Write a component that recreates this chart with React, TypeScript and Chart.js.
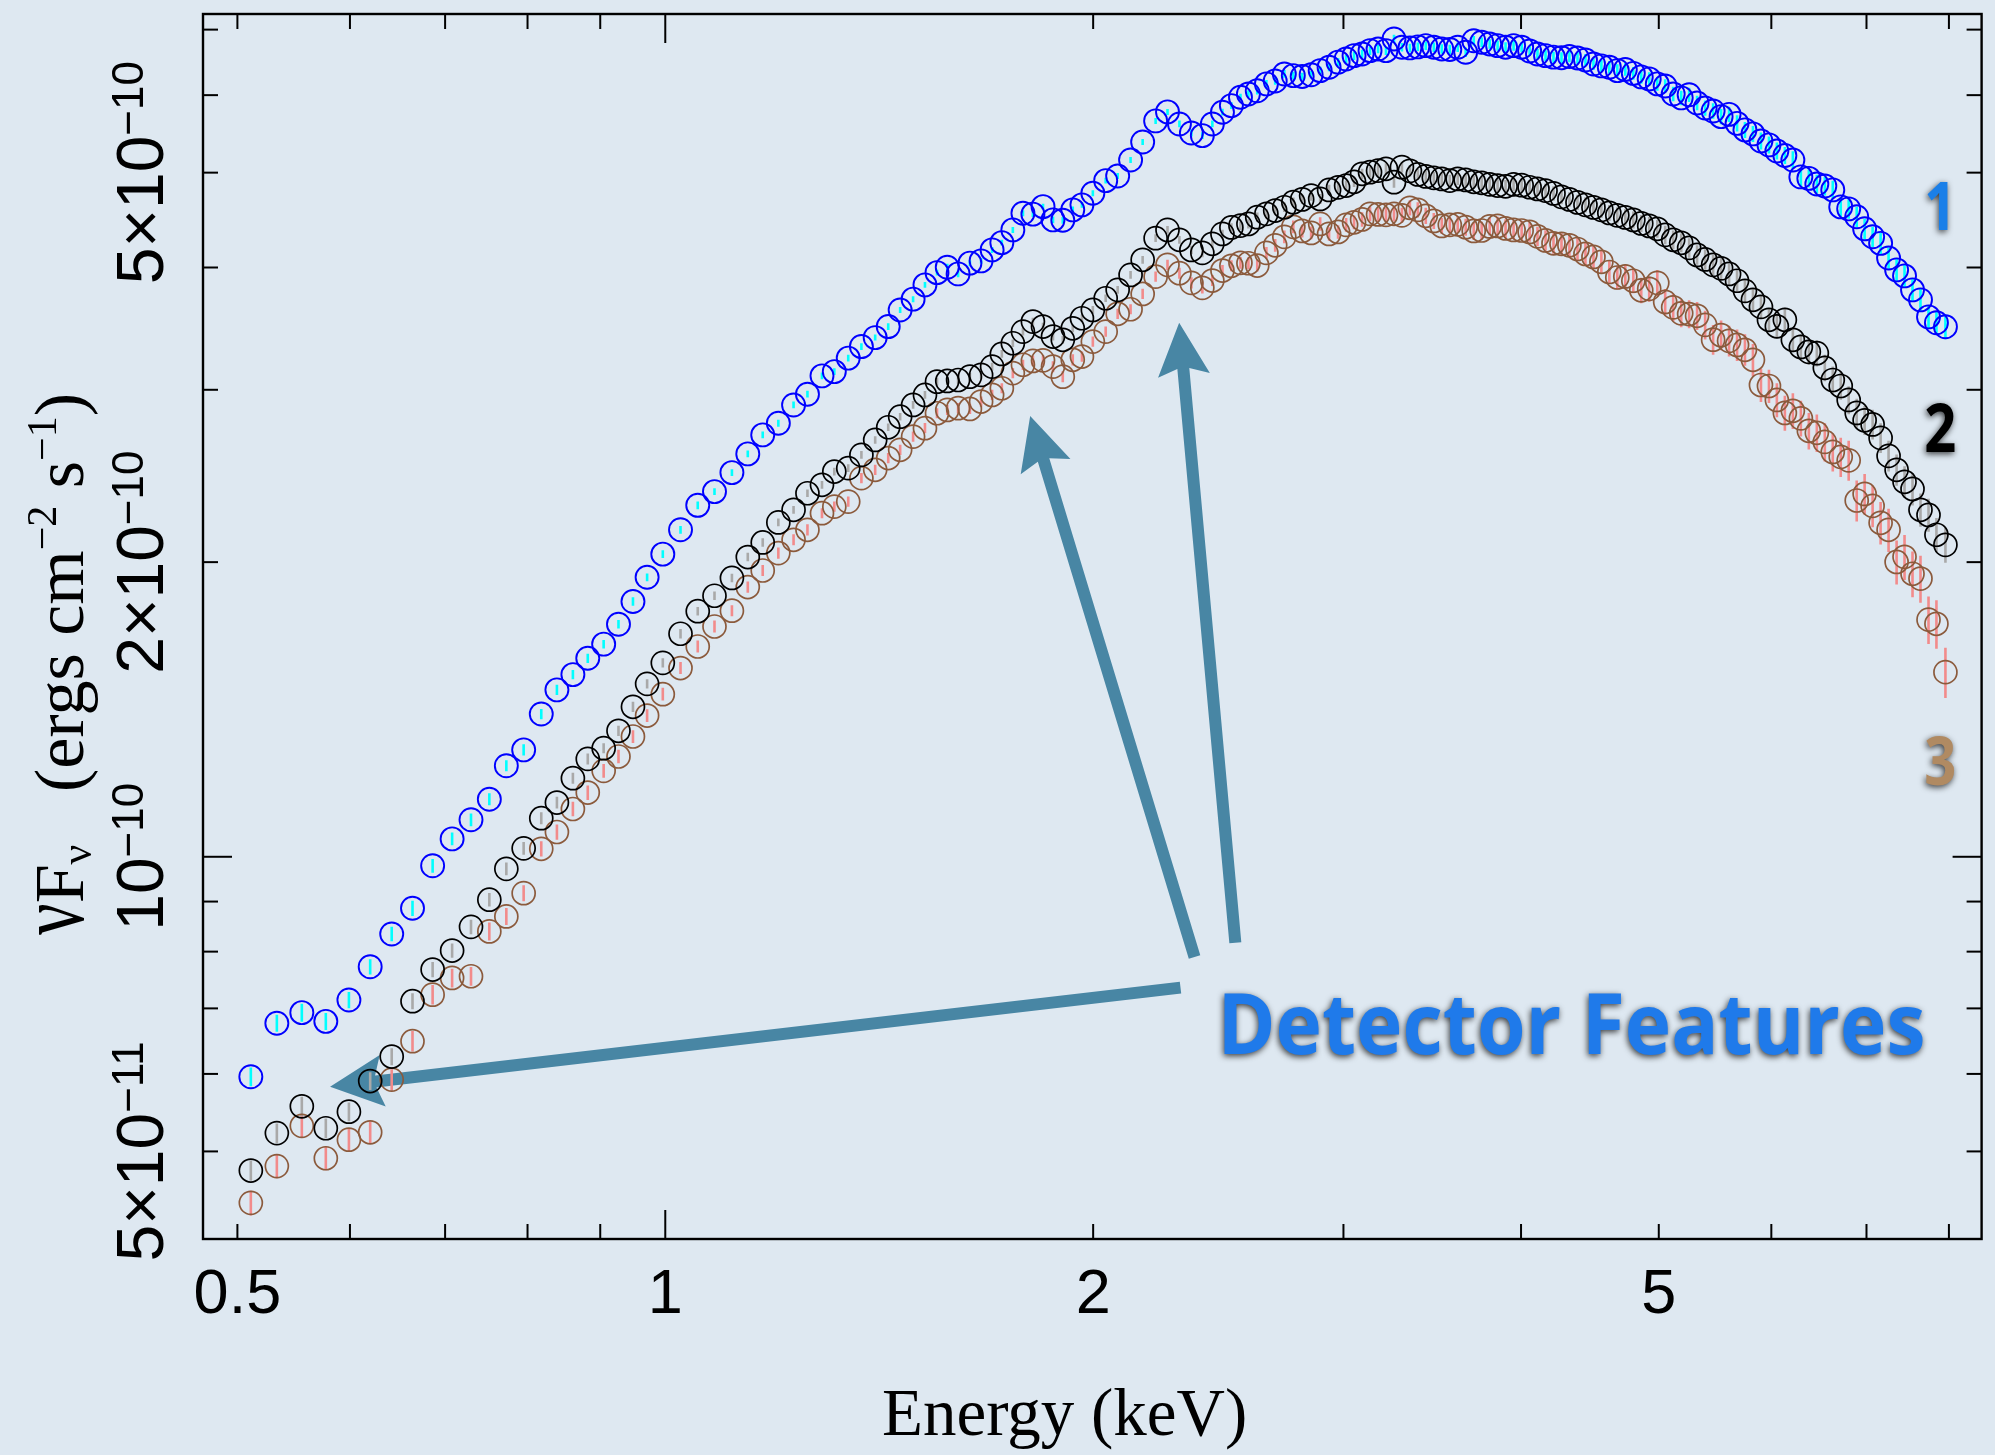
import React, { useEffect, useRef } from "react";
import { Chart, registerables } from "chart.js";

Chart.register(...registerables);

const W = 1995;
const H = 1455;
const PAGE_BG = "#dee8f1";

// Bin centre energies (keV), shared by the three spectra
const energyKeV = [
  0.511, 0.533, 0.555, 0.577, 0.599, 0.62, 0.642, 0.664, 0.686, 0.708,
  0.73, 0.752, 0.773, 0.795, 0.818, 0.839, 0.861, 0.882, 0.905, 0.927,
  0.949, 0.971, 0.996, 1.025, 1.054, 1.083, 1.114, 1.143, 1.171, 1.201,
  1.231, 1.259, 1.289, 1.315, 1.345, 1.374, 1.405, 1.435, 1.463, 1.494,
  1.523, 1.553, 1.579, 1.607, 1.638, 1.668, 1.698, 1.725, 1.756, 1.785,
  1.814, 1.844, 1.874, 1.904, 1.935, 1.964, 1.999, 2.041, 2.081, 2.125,
  2.167, 2.213, 2.256, 2.3, 2.345, 2.387, 2.426, 2.466, 2.502, 2.539,
  2.572, 2.609, 2.648, 2.686, 2.726, 2.766, 2.806, 2.847, 2.889, 2.931,
  2.974, 3.013, 3.052, 3.092, 3.132, 3.173, 3.214, 3.256, 3.298, 3.341,
  3.384, 3.428, 3.473, 3.518, 3.564, 3.61, 3.657, 3.705, 3.753, 3.802,
  3.851, 3.901, 3.952, 4.004, 4.056, 4.108, 4.162, 4.216, 4.271, 4.326,
  4.383, 4.44, 4.498, 4.556, 4.615, 4.675, 4.736, 4.798, 4.86, 4.923,
  4.988, 5.052, 5.118, 5.185, 5.252, 5.32, 5.39, 5.46, 5.531, 5.603,
  5.676, 5.749, 5.824, 5.9, 5.977, 6.054, 6.133, 6.213, 6.294, 6.376,
  6.459, 6.543, 6.628, 6.714, 6.801, 6.89, 6.979, 7.07, 7.162, 7.255,
  7.35, 7.445, 7.542, 7.64, 7.74, 7.84, 7.955,
];

// νFν of spectrum 1, in 1e-10 ergs cm^-2 s^-1
const fluxSpec1 = [
  0.596, 0.676, 0.693, 0.679, 0.714, 0.772, 0.834, 0.886, 0.979, 1.043,
  1.091, 1.145, 1.239, 1.286, 1.399, 1.481, 1.535, 1.595, 1.649, 1.728,
  1.823, 1.93, 2.038, 2.158, 2.286, 2.361, 2.469, 2.58, 2.698, 2.773,
  2.895, 2.969, 3.1, 3.131, 3.232, 3.321, 3.392, 3.481, 3.62, 3.713,
  3.84, 3.952, 4.003, 3.94, 4.041, 4.063, 4.169, 4.241, 4.37, 4.545,
  4.535, 4.616, 4.474, 4.47, 4.581, 4.635, 4.763, 4.907, 4.961, 5.151,
  5.374, 5.647, 5.768, 5.607, 5.489, 5.455, 5.607, 5.764, 5.854, 5.971,
  6.017, 6.063, 6.161, 6.203, 6.307, 6.282, 6.27, 6.295, 6.357, 6.406,
  6.484, 6.533, 6.584, 6.61, 6.662, 6.688, 6.662, 6.847, 6.716, 6.705,
  6.722, 6.741, 6.716, 6.688, 6.68, 6.716, 6.637, 6.82, 6.795, 6.767,
  6.741, 6.716, 6.741, 6.716, 6.657, 6.61, 6.584, 6.561, 6.552, 6.57,
  6.548, 6.518, 6.457, 6.427, 6.406, 6.357, 6.374, 6.316, 6.263, 6.234,
  6.161, 6.131, 6.017, 5.962, 6.005, 5.89, 5.821, 5.781, 5.704, 5.735,
  5.615, 5.529, 5.477, 5.387, 5.337, 5.261, 5.206, 5.151, 4.95, 4.933,
  4.869, 4.846, 4.801, 4.613, 4.592, 4.507, 4.381, 4.3, 4.234, 4.091,
  3.978, 3.922, 3.795, 3.707, 3.561, 3.512, 3.479,
];

// νFν of spectrum 2, in 1e-10 ergs cm^-2 s^-1
const fluxSpec2 = [
  0.478, 0.522, 0.556, 0.528, 0.549, 0.59, 0.625, 0.712, 0.767, 0.802,
  0.848, 0.904, 0.972, 1.02, 1.095, 1.136, 1.203, 1.259, 1.291, 1.345,
  1.423, 1.502, 1.578, 1.69, 1.782, 1.848, 1.927, 2.024, 2.095, 2.196,
  2.262, 2.352, 2.399, 2.475, 2.495, 2.574, 2.666, 2.747, 2.816, 2.895,
  2.964, 3.058, 3.063, 3.07, 3.094, 3.107, 3.168, 3.264, 3.347, 3.44,
  3.522, 3.481, 3.4, 3.374, 3.467, 3.55, 3.62, 3.721, 3.795, 3.931,
  4.073, 4.286, 4.37, 4.269, 4.169, 4.14, 4.229, 4.329, 4.395, 4.414,
  4.432, 4.503, 4.538, 4.573, 4.609, 4.664, 4.695, 4.737, 4.7, 4.801,
  4.83, 4.85, 4.893, 4.986, 5.005, 5.024, 5.045, 4.889, 5.065, 5.021,
  4.979, 4.956, 4.939, 4.927, 4.907, 4.927, 4.915, 4.893, 4.882, 4.864,
  4.85, 4.842, 4.864, 4.855, 4.831, 4.812, 4.793, 4.761, 4.723, 4.695,
  4.662, 4.635, 4.607, 4.581, 4.548, 4.522, 4.5, 4.474, 4.437, 4.411,
  4.381, 4.319, 4.269, 4.239, 4.189, 4.12, 4.077, 4.025, 3.992, 3.94,
  3.877, 3.786, 3.707, 3.646, 3.537, 3.483, 3.537, 3.374, 3.318, 3.28,
  3.27, 3.159, 3.07, 3.027, 2.929, 2.841, 2.792, 2.765, 2.679, 2.568,
  2.485, 2.416, 2.376, 2.262, 2.235, 2.133, 2.083,
];

// νFν of spectrum 3, in 1e-10 ergs cm^-2 s^-1
const fluxSpec3 = [
  0.443, 0.483, 0.531, 0.492, 0.514, 0.523, 0.592, 0.648, 0.723, 0.752,
  0.755, 0.839, 0.869, 0.918, 1.019, 1.06, 1.119, 1.163, 1.224, 1.266,
  1.327, 1.394, 1.466, 1.559, 1.64, 1.719, 1.784, 1.886, 1.961, 2.043,
  2.108, 2.158, 2.244, 2.279, 2.306, 2.437, 2.485, 2.555, 2.605, 2.687,
  2.741, 2.839, 2.861, 2.873, 2.868, 2.918, 2.964, 3.011, 3.12, 3.182,
  3.211, 3.215, 3.168, 3.094, 3.219, 3.244, 3.36, 3.44, 3.587, 3.626,
  3.759, 3.915, 4.025, 3.947, 3.858, 3.813, 3.879, 3.971, 4.016, 4.044,
  4.04, 4.018, 4.14, 4.214, 4.299, 4.401, 4.359, 4.339, 4.432, 4.329,
  4.349, 4.422, 4.449, 4.479, 4.538, 4.532, 4.527, 4.538, 4.522, 4.603,
  4.581, 4.517, 4.463, 4.411, 4.422, 4.427, 4.398, 4.359, 4.364, 4.406,
  4.411, 4.385, 4.37, 4.364, 4.349, 4.304, 4.263, 4.234, 4.229, 4.214,
  4.178, 4.13, 4.101, 4.054, 3.958, 3.907, 3.917, 3.877, 3.791, 3.804,
  3.858, 3.689, 3.642, 3.591, 3.585, 3.57, 3.495, 3.375, 3.411, 3.366,
  3.334, 3.296, 3.219, 3.034, 3.027, 2.929, 2.841, 2.855, 2.805, 2.724,
  2.711, 2.654, 2.592, 2.562, 2.541, 2.312, 2.348, 2.283, 2.194, 2.158,
  2.001, 2.025, 1.946, 1.924, 1.747, 1.73, 1.544,
];

// 1-sigma uncertainties, percent of the flux in each bin
const errPctSpec1 = [
  2.2, 2.0, 2.1, 2.0, 1.9, 1.8, 1.7, 1.8, 1.6, 1.5,
  1.5, 1.4, 1.3, 1.3, 1.2, 1.2, 1.1, 1.1, 1.0, 1.0,
  1.0, 0.9, 0.9, 0.9, 0.9, 0.8, 0.8, 0.8, 0.8, 0.8,
  0.8, 0.8, 0.8, 0.8, 0.8, 0.8, 0.7, 0.8, 0.7, 0.7,
  0.7, 0.7, 0.8, 0.8, 0.7, 0.7, 0.7, 0.7, 0.7, 0.7,
  0.7, 0.7, 0.8, 0.8, 0.8, 0.7, 0.7, 0.7, 0.7, 0.7,
  0.7, 0.7, 0.7, 0.8, 0.8, 0.8, 0.8, 0.8, 0.8, 0.8,
  0.9, 0.9, 0.9, 0.9, 0.9, 0.9, 0.9, 0.9, 0.9, 0.9,
  1.0, 1.0, 1.0, 1.0, 1.0, 1.0, 1.0, 1.0, 1.0, 1.0,
  1.0, 1.0, 1.1, 1.1, 1.1, 1.1, 1.1, 1.1, 1.1, 1.1,
  1.2, 1.2, 1.2, 1.2, 1.2, 1.2, 1.3, 1.3, 1.3, 1.3,
  1.4, 1.4, 1.4, 1.4, 1.5, 1.5, 1.5, 1.5, 1.6, 1.6,
  1.6, 1.6, 1.7, 1.7, 1.7, 1.7, 1.8, 1.8, 1.8, 1.8,
  1.9, 1.9, 1.9, 2.0, 2.0, 2.0, 2.0, 2.1, 2.1, 2.1,
  2.2, 2.2, 2.2, 2.3, 2.3, 2.4, 2.4, 2.4, 2.5, 2.5,
  2.6, 2.6, 2.7, 2.7, 2.8, 2.8, 2.9,
];

const errPctSpec2 = [
  2.4, 2.3, 2.3, 2.3, 2.2, 2.1, 2.0, 1.9, 1.8, 1.7,
  1.7, 1.6, 1.5, 1.5, 1.4, 1.4, 1.3, 1.3, 1.2, 1.2,
  1.2, 1.1, 1.1, 1.1, 1.0, 1.0, 1.0, 1.0, 1.0, 0.9,
  0.9, 0.9, 0.9, 0.9, 0.9, 0.9, 0.9, 0.9, 0.9, 0.9,
  0.9, 0.9, 0.9, 0.9, 0.9, 0.9, 0.9, 0.9, 0.9, 0.9,
  0.9, 0.9, 0.9, 0.9, 0.9, 0.9, 0.9, 0.9, 0.9, 0.9,
  0.9, 0.9, 0.9, 0.9, 1.0, 1.0, 1.0, 1.0, 1.0, 1.0,
  1.1, 1.1, 1.1, 1.1, 1.1, 1.1, 1.1, 1.2, 1.2, 1.2,
  1.2, 1.2, 1.2, 1.2, 1.3, 1.3, 1.3, 1.3, 1.3, 1.3,
  1.3, 1.4, 1.4, 1.4, 1.4, 1.4, 1.4, 1.5, 1.5, 1.5,
  1.5, 1.5, 1.6, 1.6, 1.6, 1.6, 1.7, 1.7, 1.7, 1.7,
  1.8, 1.8, 1.8, 1.9, 1.9, 1.9, 2.0, 2.0, 2.0, 2.1,
  2.1, 2.2, 2.2, 2.2, 2.3, 2.3, 2.4, 2.4, 2.5, 2.5,
  2.6, 2.6, 2.7, 2.7, 2.8, 2.8, 2.9, 2.9, 3.0, 3.0,
  3.1, 3.1, 3.2, 3.2, 3.3, 3.4, 3.4, 3.5, 3.5, 3.6,
  3.7, 3.7, 3.8, 3.9, 3.9, 4.0, 4.1,
];

const errPctSpec3 = [
  2.9, 2.8, 2.8, 2.8, 2.7, 2.6, 2.5, 2.4, 2.3, 2.2,
  2.2, 2.1, 2.0, 1.9, 1.8, 1.8, 1.7, 1.7, 1.6, 1.6,
  1.5, 1.5, 1.5, 1.4, 1.4, 1.4, 1.3, 1.3, 1.3, 1.3,
  1.3, 1.3, 1.2, 1.2, 1.2, 1.2, 1.2, 1.2, 1.2, 1.2,
  1.2, 1.2, 1.2, 1.2, 1.2, 1.2, 1.2, 1.2, 1.2, 1.2,
  1.2, 1.2, 1.3, 1.3, 1.3, 1.2, 1.2, 1.2, 1.2, 1.2,
  1.2, 1.2, 1.2, 1.3, 1.3, 1.3, 1.3, 1.3, 1.3, 1.4,
  1.4, 1.4, 1.4, 1.5, 1.5, 1.5, 1.5, 1.5, 1.6, 1.6,
  1.6, 1.6, 1.6, 1.7, 1.7, 1.7, 1.7, 1.8, 1.8, 1.8,
  1.8, 1.9, 1.9, 1.9, 2.0, 2.0, 2.0, 2.1, 2.1, 2.1,
  2.2, 2.2, 2.2, 2.3, 2.3, 2.3, 2.4, 2.4, 2.5, 2.5,
  2.6, 2.6, 2.7, 2.7, 2.8, 2.8, 2.9, 2.9, 3.0, 3.0,
  3.1, 3.1, 3.2, 3.2, 3.3, 3.3, 3.4, 3.5, 3.5, 3.6,
  3.7, 3.7, 3.8, 3.9, 3.9, 4.0, 4.1, 4.2, 4.2, 4.3,
  4.4, 4.5, 4.5, 4.6, 4.7, 4.8, 4.8, 4.9, 5.0, 5.1,
  5.2, 5.3, 5.4, 5.5, 5.6, 5.7, 5.9,
];

const seriesMarkerColors = ["#0000ff", "#000000", "#8b5a3c"];
const seriesErrorColors = ["#00ffff", "#a9a9a9", "#f28b8b"];

// Axis limits
const energyMin = 0.4729;
const energyMax = 8.435;
const fluxMin = 0.4069;
const fluxMax = 7.262;

// Ticks
const xLabelValues = [0.5, 1, 2, 5];
const xLabelTexts = ["0.5", "1", "2", "5"];
const xShortTicks = [0.5, 0.6, 0.7, 0.8, 0.9, 2, 3, 4, 5, 6, 7, 8];
const xLongTicks = [1];
const yLabelValues = [0.5, 1, 2, 5];
const yLabelBases = ["5×10", "10", "2×10", "5×10"];
const yLabelExponents = ["−11", "−10", "−10", "−10"];
const yShortTicks = [0.5, 0.6, 0.7, 0.8, 0.9, 2, 3, 4, 5, 6, 7];
const yLongTicks = [1];

// Spectrum tags near the high-energy end
const tagTexts = ["1", "2", "3"];
const tagColors = ["#1a7fe8", "#000000", "#b08a62"];
const tagKeV = [7.89, 7.89, 7.89];
const tagFlux = [4.62, 2.74, 1.25];

// Arrows pointing at detector features (tail -> tip)
const arrowTailKeV = [2.304, 2.357, 2.518];
const arrowTailFlux = [0.735, 0.79, 0.817];
const arrowTipKeV = [0.581, 1.806, 2.299];
const arrowTipFlux = [0.582, 2.821, 3.513];
const ARROW_COLOR = "#4886a4";

// Callout text anchor (left edge, baseline)
const calloutText = "Detector Features";
const calloutKeV = 2.446;
const calloutFlux = 0.629;
const CALLOUT_COLOR = "#1f7aea";

type Seg = { text: string; font: string; shift?: number; sy?: number };

function drawRotatedSegments(ctx: CanvasRenderingContext2D, segs: Seg[], x0: number, y0: number, centered: boolean) {
  const widths = segs.map((s) => {
    ctx.font = s.font;
    return ctx.measureText(s.text).width;
  });
  const total = widths.reduce((a, b) => a + b, 0);
  ctx.save();
  ctx.translate(x0, y0);
  ctx.rotate(-Math.PI / 2);
  ctx.textAlign = "left";
  ctx.textBaseline = "alphabetic";
  let u = centered ? -total / 2 : 0;
  segs.forEach((s, i) => {
    ctx.font = s.font;
    ctx.save();
    ctx.translate(u, s.shift || 0);
    if (s.sy) ctx.scale(1, s.sy);
    ctx.fillText(s.text, 0, 0);
    ctx.restore();
    u += widths[i];
  });
  ctx.restore();
}

function drawArrow(ctx: CanvasRenderingContext2D, tx: number, ty: number, hx: number, hy: number) {
  const shaft = 12;
  const headLen = 53;
  const headHalf = 26;
  const notch = 7;
  const dx = hx - tx;
  const dy = hy - ty;
  const len = Math.hypot(dx, dy);
  const ux = dx / len;
  const uy = dy / len;
  const nx = -uy;
  const ny = ux;
  const bx = hx - ux * headLen;
  const by = hy - uy * headLen;
  const jx = bx + ux * notch;
  const jy = by + uy * notch;
  ctx.beginPath();
  ctx.moveTo(tx + (nx * shaft) / 2, ty + (ny * shaft) / 2);
  ctx.lineTo(jx + (nx * shaft) / 2, jy + (ny * shaft) / 2);
  ctx.lineTo(bx + nx * headHalf, by + ny * headHalf);
  ctx.lineTo(hx, hy);
  ctx.lineTo(bx - nx * headHalf, by - ny * headHalf);
  ctx.lineTo(jx - (nx * shaft) / 2, jy - (ny * shaft) / 2);
  ctx.lineTo(tx - (nx * shaft) / 2, ty - (ny * shaft) / 2);
  ctx.closePath();
  ctx.fill();
}

const spectrumDecor = {
  id: "spectrumDecor",
  beforeDatasetsDraw(chart: any) {
    const ctx: CanvasRenderingContext2D = chart.ctx;
    const xs = chart.scales.x;
    const ys = chart.scales.y;
    ctx.save();
    // annotation arrows sit beneath the data points
    ctx.fillStyle = ARROW_COLOR;
    for (let i = 0; i < arrowTipKeV.length; i++) {
      drawArrow(
        ctx,
        xs.getPixelForValue(arrowTailKeV[i]),
        ys.getPixelForValue(arrowTailFlux[i]),
        xs.getPixelForValue(arrowTipKeV[i]),
        ys.getPixelForValue(arrowTipFlux[i])
      );
    }
    // vertical error bars
    const fluxes = [fluxSpec1, fluxSpec2, fluxSpec3];
    const errs = [errPctSpec1, errPctSpec2, errPctSpec3];
    ctx.lineWidth = 2.6;
    ctx.lineCap = "butt";
    for (let s = fluxes.length - 1; s >= 0; s--) {
      ctx.strokeStyle = seriesErrorColors[s];
      ctx.beginPath();
      for (let i = 0; i < energyKeV.length; i++) {
        const f = fluxes[s][i];
        const e = errs[s][i] / 100;
        const x = xs.getPixelForValue(energyKeV[i]);
        ctx.moveTo(x, ys.getPixelForValue(f * (1 + e)));
        ctx.lineTo(x, ys.getPixelForValue(f * (1 - e)));
      }
      ctx.stroke();
    }
    ctx.restore();
  },
  afterDatasetsDraw(chart: any) {
    const ctx: CanvasRenderingContext2D = chart.ctx;
    const xs = chart.scales.x;
    const ys = chart.scales.y;
    const { left, right, top, bottom } = chart.chartArea;
    ctx.save();

    // frame and inward ticks on all four sides
    ctx.strokeStyle = "#000";
    ctx.lineWidth = 2.4;
    ctx.strokeRect(left, top, right - left, bottom - top);
    ctx.lineWidth = 2;
    const seg = (x1: number, y1: number, x2: number, y2: number) => {
      ctx.beginPath();
      ctx.moveTo(x1, y1);
      ctx.lineTo(x2, y2);
      ctx.stroke();
    };
    const xTick = (v: number, L: number) => {
      const x = xs.getPixelForValue(v);
      seg(x, bottom, x, bottom - L);
      seg(x, top, x, top + L);
    };
    const yTick = (v: number, L: number) => {
      const y = ys.getPixelForValue(v);
      seg(left, y, left + L, y);
      seg(right, y, right - L, y);
    };
    xShortTicks.forEach((v) => xTick(v, 15));
    xLongTicks.forEach((v) => xTick(v, 29));
    yShortTicks.forEach((v) => yTick(v, 15));
    yLongTicks.forEach((v) => yTick(v, 29));

    // x tick labels
    ctx.fillStyle = "#000";
    ctx.font = '63px "Liberation Sans", Arial, sans-serif';
    ctx.textAlign = "center";
    ctx.textBaseline = "alphabetic";
    xLabelValues.forEach((v, i) => {
      ctx.fillText(xLabelTexts[i], xs.getPixelForValue(v), bottom + 74);
    });

    // y tick labels, rotated, with raised exponents
    yLabelValues.forEach((v, i) => {
      drawRotatedSegments(
        ctx,
        [
          { text: yLabelBases[i], font: '66px "Liberation Sans", Arial, sans-serif' },
          { text: yLabelExponents[i], font: '44px "Liberation Sans", Arial, sans-serif', shift: -20 },
        ],
        left - 40,
        ys.getPixelForValue(v),
        true
      );
    });

    // axis titles
    ctx.font = '67px "Liberation Serif", "Times New Roman", serif';
    ctx.textAlign = "left";
    ctx.fillText("Energy (keV)", left + 679, bottom + 196);

    const serif = (px: number) => `${px}px "Liberation Serif", "Times New Roman", serif`;
    drawRotatedSegments(
      ctx,
      [
        { text: "ν", font: serif(70), sy: 1.35 },
        { text: "F", font: serif(70) },
        { text: "ν", font: serif(44), shift: 8 },
        { text: "   (ergs cm", font: serif(70) },
        { text: "−2", font: serif(42), shift: -27 },
        { text: " s", font: serif(70) },
        { text: "−1", font: serif(42), shift: -27 },
        { text: ")", font: serif(70) },
      ],
      left - 120,
      bottom - 304,
      false
    );

    // callout and spectrum tags with soft drop shadow
    ctx.shadowColor = "rgba(0,0,0,0.75)";
    ctx.shadowBlur = 6;
    ctx.shadowOffsetX = -1;
    ctx.shadowOffsetY = 2;

    ctx.font = 'bold 85px "Open Sans", "Noto Sans", sans-serif';
    ctx.fillStyle = CALLOUT_COLOR;
    const cx = xs.getPixelForValue(calloutKeV);
    const cy = ys.getPixelForValue(calloutFlux);
    const natural = ctx.measureText(calloutText).width;
    ctx.save();
    ctx.translate(cx, cy);
    ctx.scale(708 / natural, 1);
    ctx.textAlign = "left";
    ctx.fillText(calloutText, 0, 0);
    ctx.restore();

    ctx.font = 'bold 66px "Open Sans", "Noto Sans", sans-serif';
    ctx.textAlign = "center";
    tagTexts.forEach((t, i) => {
      ctx.fillStyle = tagColors[i];
      ctx.save();
      ctx.translate(xs.getPixelForValue(tagKeV[i]), ys.getPixelForValue(tagFlux[i]) + 23.5);
      ctx.scale(0.85, 1);
      ctx.fillText(t, 0, 0);
      ctx.restore();
    });

    ctx.restore();
  },
};

export default function App() {
  const canvasRef = useRef<HTMLCanvasElement>(null);

  useEffect(() => {
    const canvas = canvasRef.current;
    if (!canvas) return;
    const fluxes = [fluxSpec1, fluxSpec2, fluxSpec3];
    const datasets = fluxes.map((f, s) => ({
      label: `Spectrum ${s + 1}`,
      data: energyKeV.map((e, i) => ({ x: e, y: f[i] })),
      showLine: false,
      pointStyle: "circle",
      pointRadius: 11.5,
      pointHoverRadius: 11.5,
      pointBorderWidth: s === 0 ? 1.9 : 1.7,
      borderColor: seriesMarkerColors[s],
      pointBorderColor: seriesMarkerColors[s],
      backgroundColor: "rgba(0,0,0,0)",
      pointBackgroundColor: "rgba(0,0,0,0)",
      order: s,
      clip: false as any,
    }));

    const chart = new Chart(canvas, {
      type: "scatter",
      data: { datasets },
      options: {
        responsive: false,
        animation: false,
        devicePixelRatio: 1,
        events: [],
        layout: { padding: { left: 203, top: 14, right: 9, bottom: 216 } },
        plugins: { legend: { display: false }, tooltip: { enabled: false } },
        scales: {
          x: { type: "logarithmic", min: energyMin, max: energyMax, display: false },
          y: { type: "logarithmic", min: fluxMin, max: fluxMax, display: false },
        },
      },
      plugins: [spectrumDecor],
    } as any);

    return () => chart.destroy();
  }, []);

  return (
    <div style={{ position: "fixed", left: 0, top: 0, width: W, height: H, background: PAGE_BG }}>
      <canvas ref={canvasRef} width={W} height={H} style={{ display: "block", width: W, height: H }} />
    </div>
  );
}
